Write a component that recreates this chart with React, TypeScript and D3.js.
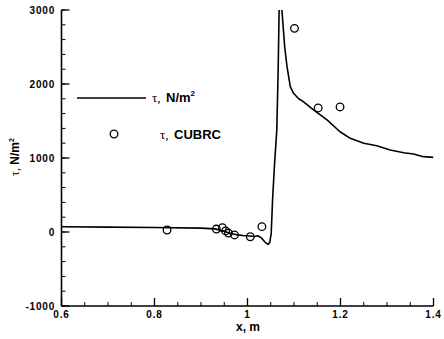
import React from "react";
import * as d3 from "d3";

// computed wall shear (line)
const lineX = [0.6, 0.7, 0.8, 0.9, 0.93, 0.95, 0.96, 0.975, 0.99, 1.005, 1.015, 1.022, 1.03, 1.038, 1.044, 1.048, 1.051, 1.054, 1.058, 1.063, 1.066, 1.068, 1.071, 1.074, 1.08, 1.085, 1.092, 1.099, 1.11, 1.12, 1.142, 1.171, 1.199, 1.221, 1.25, 1.278, 1.307, 1.336, 1.357, 1.378, 1.4];
const lineY = [70, 66, 60, 52, 42, 10, -15, -35, -48, -55, -60, -50, -80, -140, -168, -140, -20, 450, 900, 1380, 2200, 3000, 3400, 3000, 2500, 2234, 1964, 1874, 1800, 1761, 1649, 1514, 1355, 1266, 1199, 1166, 1108, 1072, 1054, 1018, 1009];

// CUBRC measurements (circles)
const expX = [0.827, 0.933, 0.946, 0.953, 0.959, 0.972, 1.006, 1.031, 1.101, 1.152, 1.199];
const expY = [27, 40, 58, 15, -14, -40, -64, 72, 2752, 1676, 1690];

const xTicks = [0.6, 0.8, 1.0, 1.2, 1.4];
const xTickLabels = ["0.6", "0.8", "1", "1.2", "1.4"];
const yTicks = [-1000, 0, 1000, 2000, 3000];
const yTickLabels = ["-1000", "0", "1000", "2000", "3000"];

const W = 444;
const H = 339;
const left = 61.5;
const right = 433.5;
const top = 10;
const bottom = 306;

const font = "'Liberation Sans', Arial, sans-serif";
const serif = "'Liberation Serif', 'DejaVu Serif', serif";

export default function App() {
  const x = d3.scaleLinear().domain([0.6, 1.4]).range([left, right]);
  const y = d3.scaleLinear().domain([-1000, 3000]).range([bottom, top]);

  const pts = lineX.map((v, i) => [v, lineY[i]] as [number, number]);
  const line = d3
    .line<[number, number]>()
    .x((d) => x(d[0]))
    .y((d) => y(d[1]));

  const xMinor = d3.range(0.6, 1.4001, 0.05);
  const yMinor = d3.range(-1000, 3001, 200);

  return (
    <svg
      width={W}
      height={H}
      style={{ position: "absolute", left: 0, top: 0, background: "#fff" }}
      fontFamily={font}
      fontWeight="bold"
    >
      <defs>
        <clipPath id="plot">
          <rect x={left} y={top} width={right - left} height={bottom - top} />
        </clipPath>
      </defs>

      {/* minor ticks */}
      {xMinor.map((t, i) => (
        <line key={"xm" + i} x1={x(t)} x2={x(t)} y1={bottom} y2={bottom - 4} stroke="#000" strokeWidth={1} />
      ))}
      {yMinor.map((t, i) => (
        <line key={"ym" + i} x1={left} x2={left + 4} y1={y(t)} y2={y(t)} stroke="#000" strokeWidth={1} />
      ))}
      {/* major ticks */}
      {xTicks.map((t, i) => (
        <g key={"xt" + i}>
          <line x1={x(t)} x2={x(t)} y1={bottom} y2={bottom - 8} stroke="#000" strokeWidth={1.3} />
          <text x={x(t)} y={318} fontSize={10} letterSpacing={0.8} textAnchor="middle">
            {xTickLabels[i]}
          </text>
        </g>
      ))}
      {yTicks.map((t, i) => (
        <g key={"yt" + i}>
          <line x1={left} x2={left + 8} y1={y(t)} y2={y(t)} stroke="#000" strokeWidth={1.3} />
          <text x={55} y={y(t) + 3.5} fontSize={10} letterSpacing={0.8} textAnchor="end">
            {yTickLabels[i]}
          </text>
        </g>
      ))}

      {/* axes */}
      <line x1={left} x2={left} y1={top} y2={bottom} stroke="#000" strokeWidth={1.6} />
      <line x1={left} x2={right} y1={bottom} y2={bottom} stroke="#000" strokeWidth={1.6} />

      {/* data */}
      <g clipPath="url(#plot)">
        <path d={line(pts) || ""} fill="none" stroke="#000" strokeWidth={1.6} strokeLinejoin="round" />
      </g>
      {expX.map((v, i) => (
        <circle key={"c" + i} cx={x(v)} cy={y(expY[i])} r={3.8} fill="none" stroke="#000" strokeWidth={1.3} />
      ))}

      {/* legend */}
      <line x1={77} x2={146} y1={98} y2={98} stroke="#000" strokeWidth={1.6} />
      <text y={102} fontSize={13}>
        <tspan x={152} fontFamily={serif} fontWeight="normal">τ,</tspan>
        <tspan x={166}>N/m</tspan>
        <tspan dy={-6} fontSize={8}>2</tspan>
      </text>
      <circle cx={114} cy={134} r={3.8} fill="none" stroke="#000" strokeWidth={1.3} />
      <text y={138.5} fontSize={13}>
        <tspan x={160} fontFamily={serif} fontWeight="normal">τ,</tspan>
        <tspan x={174}>CUBRC</tspan>
      </text>

      {/* axis titles */}
      <text x={248} y={331} fontSize={12} textAnchor="middle">
        x, m
      </text>
      <text transform="translate(19,157) rotate(-90)" fontSize={12} textAnchor="middle">
        <tspan fontFamily={serif} fontWeight="normal">τ,</tspan> N/m
        <tspan dy={-5} fontSize={7}>2</tspan>
      </text>
    </svg>
  );
}
